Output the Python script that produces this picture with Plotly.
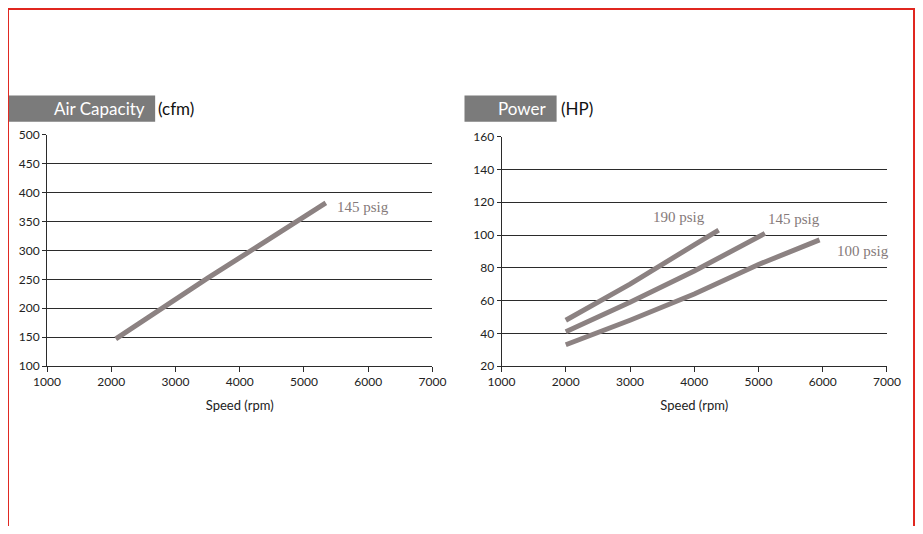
import plotly.graph_objects as go

# the page adds an 8px body margin, so the figure is sized to fit the window
W, H = 907, 518

# data
speed_air = [2070, 3500, 5340]
air_145 = [147, 252, 382]

speed_p190 = [2000, 3000, 4000, 4380]
power_190 = [48, 70, 94, 103]
speed_p145 = [2000, 3000, 4000, 5100]
power_145 = [41, 59, 78, 101]
speed_p100 = [2000, 3000, 4000, 5000, 5950]
power_100 = [33, 48, 64, 82, 97]

x_ticks = [1000, 2000, 3000, 4000, 5000, 6000, 7000]
air_ticks = [100, 150, 200, 250, 300, 350, 400, 450, 500]
power_ticks = [20, 40, 60, 80, 100, 120, 140, 160]

LINE_COLOR = "#8c8282"
GRID = "#2b2b2b"
FONT = "Lato"


def px(x):
    # screen pixel -> paper fraction (measured plot paper: left 23, width 878)
    return (x - 23) / 878


def py(y):
    # screen pixel -> paper fraction (measured plot paper: top 17, height 500)
    return 1 - (y - 17) / 500


fig = go.Figure()

line_style = dict(color=LINE_COLOR, width=5)
fig.add_trace(go.Scatter(x=speed_air, y=air_145, mode="lines", line=line_style,
                         xaxis="x", yaxis="y"))
for sx, sy in [(speed_p190, power_190), (speed_p145, power_145), (speed_p100, power_100)]:
    fig.add_trace(go.Scatter(x=sx, y=sy, mode="lines", line=line_style,
                             xaxis="x2", yaxis="y2"))

xaxis_common = dict(
    range=[1000, 7000],
    tickvals=x_ticks,
    showgrid=False,
    zeroline=False,
    showline=True,
    linecolor=GRID,
    linewidth=1,
    ticks="outside",
    ticklen=5,
    tickcolor=GRID,
    tickfont=dict(family=FONT, size=12, color="#222"),
    title=dict(text="Speed (rpm)", font=dict(family=FONT, size=13, color="#222"), standoff=12),
)
yaxis_common = dict(
    showgrid=True,
    gridcolor=GRID,
    gridwidth=1,
    zeroline=False,
    showline=True,
    linecolor=GRID,
    linewidth=1,
    ticks="outside",
    ticklen=4,
    tickcolor=GRID,
    tickfont=dict(family=FONT, size=12, color="#222"),
)

fig.update_layout(
    width=W,
    height=H,
    margin=dict(l=0, r=0, t=0, b=0),
    paper_bgcolor="white",
    plot_bgcolor="white",
    showlegend=False,
    xaxis=dict(domain=[px(48), px(433)], anchor="y", **xaxis_common),
    yaxis=dict(domain=[py(365), py(135)], anchor="x", range=[100, 500],
               tickvals=air_ticks, **yaxis_common),
    xaxis2=dict(domain=[px(502), px(887)], anchor="y2", **xaxis_common),
    yaxis2=dict(domain=[py(365), py(137)], anchor="x2", range=[20, 160],
                tickvals=power_ticks, **yaxis_common),
)

# red frame (bottom runs off the page in the original)
fig.add_shape(type="rect", xref="paper", yref="paper",
              x0=px(9), x1=px(914), y0=py(540), y1=py(10),
              line=dict(color="#e0261f", width=2), fillcolor="rgba(0,0,0,0)")

# header boxes
for x0, x1 in [(10, 156), (465, 557)]:
    fig.add_shape(type="rect", xref="paper", yref="paper",
                  x0=px(x0), x1=px(x1), y0=py(122), y1=py(96),
                  line=dict(width=0), fillcolor="#7b7b7b")

headers = [
    (148, "Air Capacity", "right", "white"),
    (157, "(cfm)", "left", "#111"),
    (548, "Power", "right", "white"),
    (559, "(HP)", "left", "#111"),
]
for x, text, anchor, color in headers:
    fig.add_annotation(x=px(x), y=py(109), xref="paper", yref="paper",
                       text=text, showarrow=False, xanchor=anchor, yanchor="middle",
                       font=dict(family=FONT, size=17, color=color))

# series labels
labels = [
    ("x", "y", 5480, 375, "145 psig"),
    ("x2", "y2", 3770, 111, "190 psig"),
    ("x2", "y2", 5560, 110, "145 psig"),
    ("x2", "y2", 6620, 90, "100 psig"),
]
for xr, yr, x, y, text in labels:
    fig.add_annotation(x=x, y=y, xref=xr, yref=yr, text=text, showarrow=False,
                       xanchor="left" if xr == "x" else "center",
                       font=dict(family="Liberation Serif", size=15, color="#857a7a"))

fig.write_html("out.html")
